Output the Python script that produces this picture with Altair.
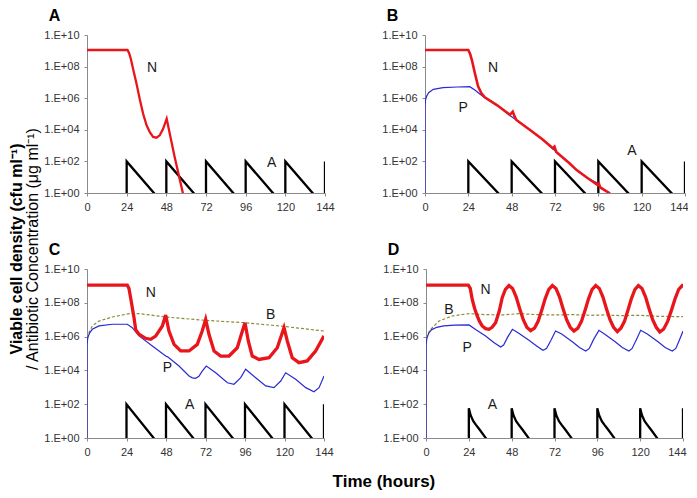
import altair as alt
import pandas as pd

# ---------------- data (log10 of value) ----------------
X_TICKS = [0, 24, 48, 72, 96, 120, 144]
Y_TICKS = [0, 2, 4, 6, 8, 10]

# Panel A
A_N_t = [0, 24.5, 25.5, 26.5, 28, 30, 32, 34, 36, 38, 40, 42, 44, 46, 48.2, 53, 58, 60]
A_N_v = [9.05, 9.05, 8.85, 8.5, 7.8, 6.9, 5.9, 5.0, 4.3, 3.85, 3.55, 3.5, 3.65, 4.05, 4.7, 2.3, 0, -1]
A_A_t = [24, 24, 48, 48, 72, 72, 96, 96, 120, 120, 144, 144]
A_A_v = [-1, 2, -0.91, 2, -0.91, 2, -0.91, 2, -0.91, 2, -0.91, 2]

# Panel B
B_N_t = [0, 24, 25, 26, 27.6, 29.4, 31.3, 33.1, 40, 47, 48.6, 49.6, 50.6, 58, 65, 70.8, 71.7, 72.7, 80, 84, 90, 95.6, 96.3, 97, 102, 104]
B_N_v = [9.05, 9.05, 8.8, 8.4, 7.6, 6.75, 6.3, 6.06, 5.55, 4.95, 5.15, 4.85, 4.62, 4.0, 3.4, 2.83, 2.93, 2.6, 1.88, 1.45, 0.95, 0.5, 0.6, 0.35, 0, -0.3]
B_P_t = [0, 0, 0.3, 1, 2, 4.6, 10, 18, 24.8, 27.6, 30, 32.2, 40, 47, 50.6, 58, 65, 70.8, 72.7, 80, 84, 90, 95.6, 97, 102, 104]
B_P_v = [0, 5.5, 5.9, 6.15, 6.35, 6.56, 6.67, 6.71, 6.73, 6.52, 6.3, 6.1, 5.55, 4.9, 4.62, 4.0, 3.4, 2.8, 2.6, 1.88, 1.45, 0.95, 0.62, 0.4, 0, -0.3]
B_A_t = A_A_t
B_A_v = A_A_v

# Panel C
C_N_t = [0, 24.5, 25.5, 26.5, 28.6, 29.6, 31.6, 35.6, 38.7, 41.7, 45.8, 47.8, 49.8, 52.9, 56.9, 62, 67, 70, 72.1,
         74.1, 77.2, 81.2, 86.3, 91.3, 94.4, 96, 98, 100.4, 104.5, 110.6, 115.6, 119.7, 121.7, 124.7, 128.8, 133.8, 138.9, 144]
C_N_v = [9.04, 9.04, 8.85, 8.3, 7.1, 6.4, 6.14, 5.9, 5.84, 6.03, 6.63, 7.28, 6.33, 5.54, 5.15, 5.15, 5.54, 6.33, 7.02,
         6.14, 5.15, 4.85, 4.85, 5.34, 6.33, 6.82, 5.74, 4.85, 4.65, 4.75, 5.34, 6.53, 5.74, 4.75, 4.46, 4.56, 5.15, 6.04]
C_P_t = [0, 0, 0.5, 1.5, 3.2, 7.3, 15.4, 24.5, 27.5, 31.6, 39.7, 47.8, 49, 55.9, 62, 64, 66, 68, 70, 72.5, 78.2, 85.3,
         89.3, 93.4, 96.4, 102.5, 108.6, 113.6, 117.7, 120.7, 126.8, 132.9, 137.9, 141, 144]
C_P_v = [0, 5.5, 5.95, 6.2, 6.43, 6.63, 6.73, 6.73, 6.53, 6.04, 5.44, 4.85, 4.8, 4.26, 3.67, 3.56, 3.53, 3.65, 3.96, 4.26,
         3.86, 3.27, 3.18, 3.57, 4.07, 3.57, 3.08, 2.98, 3.37, 3.86, 3.47, 2.98, 2.74, 2.98, 3.67]
C_B_t = [0, 0, 1, 3.2, 7.3, 15.4, 25.5, 31.6, 47.8, 72.1, 96.4, 120.7, 144]
C_B_v = [0, 5.8, 6.2, 6.63, 6.92, 7.16, 7.36, 7.36, 7.16, 6.96, 6.82, 6.59, 6.33]
C_A_t = A_A_t
C_A_v = A_A_v

# Panel D
D_N_t = [0, 23.7, 24.8, 25.9, 27.3, 28.7, 30, 31.5, 33.4, 35.3, 37, 39, 41, 42.7, 44.5, 46.5, 48.5, 50.5, 52.5, 54.5,
         56.5, 58.6, 60.8, 62.8, 64.8, 66.8, 68.8, 70.8, 72.8, 74.8, 76.8, 78.8, 80.8, 82.9, 85.1, 87.1, 89.1, 91.1,
         93.1, 95.1, 97.1, 99.1, 101.1, 103.1, 105.1, 107.2, 109.2, 111.2, 113.1, 115.1, 117.1, 119, 121, 123, 125,
         127, 129, 131, 133.2, 135.4, 137.5, 139.6, 141.6, 143.6, 144]
D_N_v = [9.04, 9.04, 8.85, 8.2, 7.65, 7.22, 6.9, 6.63, 6.47, 6.43, 6.55, 6.82, 7.5, 8.3, 8.8, 9.02, 8.85, 8.35, 7.65, 7.0,
         6.55, 6.35, 6.5, 6.9, 7.55, 8.25, 8.8, 9.02, 8.85, 8.35, 7.65, 7.0, 6.55, 6.33, 6.5, 6.9, 7.55, 8.25,
         8.8, 9.02, 8.85, 8.35, 7.65, 7.0, 6.55, 6.3, 6.5, 6.9, 7.55, 8.25, 8.8, 9.02, 8.85, 8.35, 7.65,
         7.0, 6.55, 6.28, 6.45, 6.9, 7.55, 8.25, 8.8, 9.02, 9.0]
D_P_t = [0, 0, 0.5, 1.5, 3, 6, 10, 16, 24.1, 28, 33.4, 38, 41.8, 43.5, 45.6, 48.4, 52, 57.7, 62, 65.5, 67.5, 69.8, 72.6,
         76, 82, 86, 89.5, 91.5, 94, 96.9, 100, 106, 110, 113.7, 115.5, 118, 120.3, 124, 130, 134, 138, 140, 142, 144]
D_P_v = [0, 5.5, 5.9, 6.2, 6.4, 6.55, 6.63, 6.68, 6.69, 6.4, 6.04, 5.65, 5.38, 5.5, 5.94, 6.43, 6.2, 5.78, 5.45, 5.19, 5.3,
         5.74, 6.33, 6.15, 5.7, 5.35, 5.15, 5.3, 5.85, 6.37, 6.15, 5.7, 5.35, 5.15, 5.3, 5.85, 6.37, 6.15, 5.7, 5.35,
         5.15, 5.3, 5.8, 6.33]
D_B_t = [0, 0, 1, 2.6, 7.3, 14.7, 24.1, 33, 42.8, 52, 62, 72, 82, 92, 100, 110, 120, 130, 144]
D_B_v = [0, 5.8, 6.15, 6.43, 6.92, 7.22, 7.36, 7.3, 7.28, 7.36, 7.3, 7.28, 7.3, 7.26, 7.28, 7.24, 7.26, 7.2, 7.18]
D_A_t = [24, 24, 25, 26.5, 28, 30, 33.5, 34.5,
         48, 48, 49, 50.5, 52, 54, 57.5, 58.5,
         72, 72, 73, 74.5, 76, 78, 81.5, 82.5,
         96, 96, 97, 98.5, 100, 102, 105.5, 106.5,
         120, 120, 121, 122.5, 124, 126, 129.5, 130.5,
         144, 144]
D_A_v = [-1, 1.76, 1.35, 1.0, 0.78, 0.5, 0, -0.2,
         -1, 1.76, 1.35, 1.0, 0.78, 0.5, 0, -0.2,
         -1, 1.76, 1.35, 1.0, 0.78, 0.5, 0, -0.2,
         -1, 1.76, 1.35, 1.0, 0.78, 0.5, 0, -0.2,
         -1, 1.76, 1.35, 1.0, 0.78, 0.5, 0, -0.2,
         -1, 1.76]

# Curve labels: (label, t, log value)
A_LAB = [("N", 39.3, 7.9), ("A", 111.7, 1.88)]
B_LAB = [("N", 37.7, 7.89), ("P", 21.1, 5.36), ("A", 114.6, 2.68)]
C_LAB = [("N", 38.7, 8.56), ("B", 111.6, 7.28), ("P", 48.8, 4.16), ("A", 62.4, 1.93)]
D_LAB = [("N", 33.4, 8.76), ("B", 12.9, 7.57), ("P", 23.1, 5.34), ("A", 37.2, 1.93)]

# ---------------- chart ----------------
FONT = "Liberation Sans"
RED, BLUE, OLIVE = "#e8161b", "#2a2ad2", "#8c8c35"

AXIS_STYLE = dict(title=None, grid=False, labelFont=FONT, labelFontSize=11, labelColor="#333",
                  domainColor="#8a8a8a", tickColor="#8a8a8a", tickSize=3, labelPadding=5)

y_enc = alt.Y("v:Q", scale=alt.Scale(domain=[0, 10], nice=False, zero=False),
              axis=alt.Axis(values=Y_TICKS, **AXIS_STYLE,
                            labelExpr="'1.E+' + (datum.value < 10 ? '0' + datum.value : datum.value)"))


def x_enc(right_flush):
    extra = {}
    if right_flush:
        extra["labelAlign"] = {"condition": {"test": "datum.value == 144", "value": "right"}, "value": "center"}
        extra["labelOffset"] = {"condition": {"test": "datum.value == 144", "value": 3}, "value": 0}
    return alt.X("t:Q", scale=alt.Scale(domain=[0, 144], nice=False, zero=False),
                 axis=alt.Axis(values=X_TICKS, labelFlush=False, **AXIS_STYLE, **extra))


def panel(name, w, h, nw, series, labels, right_flush=False):
    xe = x_enc(right_flush)

    def line(t, v, **style):
        df = pd.DataFrame({"t": t, "v": v, "i": list(range(len(t)))})
        return alt.Chart(df).mark_line(clip=True, **style).encode(x=xe, y=y_enc, order="i:Q")

    layers = [line(*series["A"], color="black", strokeWidth=2.3)]
    if "B" in series:
        layers.append(line(*series["B"], color=OLIVE, strokeWidth=1.2, strokeDash=[3, 2]))
    if "P" in series:
        layers.append(line(*series["P"], color=BLUE, strokeWidth=1.2))
    layers.append(line(*series["N"], color=RED, strokeWidth=nw))
    lab = pd.DataFrame(labels, columns=["lab", "t", "v"])
    layers.append(alt.Chart(lab).mark_text(font=FONT, fontSize=14, color="#1a1a1a").encode(
        x=xe, y=y_enc, text="lab:N"))
    return alt.layer(*layers).properties(
        width=w, height=h,
        title=alt.TitleParams(name, anchor="start", font=FONT, fontSize=16, fontWeight="bold",
                              color="black", offset=5, dx=5))


pA = panel("A", 238, 158, 2.3, {"N": (A_N_t, A_N_v), "A": (A_A_t, A_A_v)}, A_LAB)
pB = panel("B", 260, 158, 2.6, {"N": (B_N_t, B_N_v), "P": (B_P_t, B_P_v), "A": (B_A_t, B_A_v)}, B_LAB,
           right_flush=True)
pC = panel("C", 237, 169, 3.3, {"N": (C_N_t, C_N_v), "P": (C_P_t, C_P_v), "B": (C_B_t, C_B_v),
                                 "A": (C_A_t, C_A_v)}, C_LAB)
pD = panel("D", 257, 169, 3.3, {"N": (D_N_t, D_N_v), "P": (D_P_t, D_P_v), "B": (D_B_t, D_B_v),
                                 "A": (D_A_t, D_A_v)}, D_LAB, right_flush=True)

row1 = alt.hconcat(pA, pB, spacing=46)
row2 = alt.hconcat(pC, pD, spacing=48)
grid = alt.vconcat(row1, row2, spacing=30).properties(
    title=alt.TitleParams("Time (hours)", orient="bottom", anchor="middle", font=FONT, fontSize=17,
                          fontWeight="bold", color="black", offset=17, dx=18))
chart = alt.hconcat(grid).properties(
    padding=0,
    title=alt.TitleParams("Viable cell density (cfu ml⁻¹)", subtitle="/ Antibiotic Concentration (μg ml⁻¹)",
                          orient="left", anchor="middle", font=FONT, fontSize=16, fontWeight="bold",
                          color="black", subtitleFont=FONT, subtitleFontSize=16, subtitleColor="black",
                          subtitlePadding=0, offset=3)
).configure_view(stroke=None)

chart.save("out.html", embed_options={"renderer": "svg", "actions": False})
